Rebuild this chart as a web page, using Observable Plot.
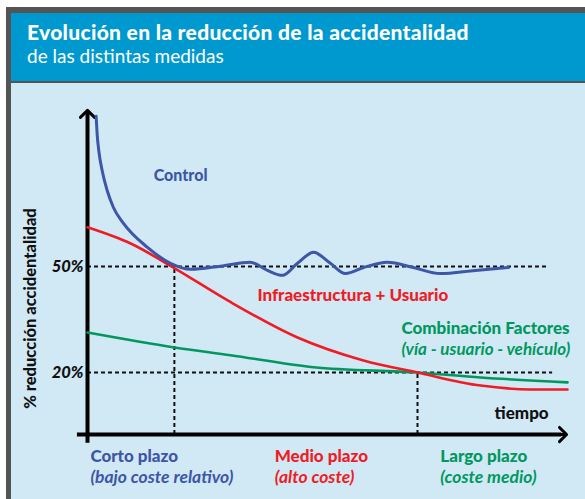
<!DOCTYPE html>
<html>
<head>
<meta charset="utf-8">
<script src="https://cdn.jsdelivr.net/npm/d3@7"></script>
<script src="https://cdn.jsdelivr.net/npm/@observablehq/plot@0.6"></script>
<style>
  html, body { margin: 0; padding: 0; background: #fff; width: 585px; height: 499px; overflow: hidden; }
  #frame { position: absolute; left: 6px; top: 7px; width: 579px; height: 492px; background: #545454; }
  #header { position: absolute; left: 5px; top: 6px; right: 0; height: 68px; background: #0099cf; color: #fff; font-family: Lato, sans-serif; }
  #title { position: absolute; left: 16px; top: 6px; font-size: 21px; font-weight: 900; letter-spacing: 0.3px; white-space: nowrap; }
  #subtitle { position: absolute; left: 16px; top: 31px; font-size: 19px; font-weight: 400; white-space: nowrap; }
  #chart { position: absolute; left: 5px; top: 76px; width: 574px; height: 416px; background: #d1e8f5; }
  #chart svg { overflow: visible; background: transparent; }
</style>
</head>
<body>
<div id="frame">
  <div id="header">
    <div id="title">Evolución en la reducción de la accidentalidad</div>
    <div id="subtitle">de las distintas medidas</div>
  </div>
  <div id="chart"></div>
</div>
<script>
// time units (0 = origin of the axes), % reduction of accidents
const controlX = [1.8, 2.0, 2.35, 3.06, 4.1, 5.4, 7.5, 12.5, 17.3, 21.5, 27.7, 33.9, 37.5, 40.6, 43.75, 47.1, 50.6, 53.75, 57.5, 62.5, 67.9, 73.5, 80.8, 87.7];
const controlY = [92.5, 87.6, 82.8, 77.1, 71.5, 66.7, 62.2, 55.4, 50.9, 49.2, 50.1, 51.2, 48.9, 47.5, 50.9, 54.0, 50.9, 48.0, 49.7, 51.2, 49.7, 48.0, 48.9, 49.7];

const infraX = [0, 9.0, 17.9, 29.2, 43.75, 57.5, 68.75, 81.9, 92.3, 100];
const infraY = [61.1, 56.5, 49.7, 40.4, 29.9, 23.4, 20.0, 16.3, 15.2, 15.2];

const combX = [0, 18.1, 29.8, 47.1, 68.75, 81.9, 100];
const combY = [31.3, 27.1, 24.9, 21.5, 20.0, 18.6, 17.2];

const tickValues = [50, 20];
const tickLabels = ["50%", "20%"];
const periodBounds = [18.1, 68.75];   // end of short term, end of medium term
const periodNames = ["Corto plazo", "Medio plazo", "Largo plazo"];
const periodCosts = ["(bajo coste relativo)", "(alto coste)", "(coste medio)"];
const seriesNames = ["Control", "Infraestructura + Usuario", "Combinación Factores"];
const combNote = "(vía - usuario - vehículo)";
const yTitle = "% reducción accidentalidad";
const xTitle = "tiempo";

const BLUE = "#3d56a6", RED = "#ee1d25", GREEN = "#00985e";
const FONT = "Lato, sans-serif";

const toRows = (xs, ys) => xs.map((x, i) => ({x, y: ys[i]}));
const control = toRows(controlX, controlY);
const infra = toRows(infraX, infraY);
const comb = toRows(combX, combY);
const periodColors = [BLUE, RED, GREEN];
const periodStarts = [0.6, 39, 73.5];
const periods = periodNames.map((n, i) => ({name: n, cost: periodCosts[i], x: periodStarts[i], color: periodColors[i]}));

const dash = {stroke: "#111", strokeWidth: 2, strokeDasharray: "4,3"};

const chart = Plot.plot({
  width: 574,
  height: 416,
  marginLeft: 76,
  marginRight: 18,
  marginTop: 6.33,
  marginBottom: 56.33,
  x: {domain: [0, 100], axis: null},
  y: {domain: [0, 100], axis: null},
  style: {background: "transparent", fontFamily: FONT},
  marks: [
    // guide lines
    Plot.ruleY([tickValues[0]], {x1: 0, x2: 96.25, ...dash}),
    Plot.ruleY([tickValues[1]], {x1: 0, x2: 96.9, ...dash}),
    Plot.ruleX([periodBounds[0]], {y1: 2.45, y2: tickValues[0], ...dash}),
    Plot.ruleX([periodBounds[1]], {y1: 2.45, y2: tickValues[1], ...dash}),
    // axes
    Plot.ruleX([0], {y1: 0, y2: 93, stroke: "#000", strokeWidth: 4}),
    Plot.ruleY([2.45], {x1: -2.1, x2: 98.8, stroke: "#000", strokeWidth: 4}),
    Plot.arrow([{x1: 0, y1: 85, x2: 0, y2: 94.2}], {x1: "x1", y1: "y1", x2: "x2", y2: "y2", stroke: "#000", strokeWidth: 3, headLength: 5, headAngle: 90}),
    Plot.arrow([{x1: 90, y1: 2.45, x2: 99.8, y2: 2.45}], {x1: "x1", y1: "y1", x2: "x2", y2: "y2", stroke: "#000", strokeWidth: 3, headLength: 5, headAngle: 90}),
    // curves
    Plot.line(comb, {x: "x", y: "y", stroke: GREEN, strokeWidth: 2.6, curve: "monotone-x"}),
    Plot.line(infra, {x: "x", y: "y", stroke: RED, strokeWidth: 2.6, curve: "monotone-x"}),
    Plot.line(control, {x: "x", y: "y", stroke: BLUE, strokeWidth: 3, curve: "monotone-x"}),
    // tick labels
    Plot.text(tickValues, {x: 0, y: d => d, text: (d, i) => tickLabels[i], textAnchor: "end", dx: -4, fontSize: 16.5, fontWeight: 900, fontStyle: "italic", fill: "#111"}),
    // axis titles
    Plot.text([yTitle], {x: -11.9, y: 38.1, rotate: -90, fontSize: 16.5, fontWeight: 900, fill: "#111"}),
    Plot.text([xTitle], {x: 84.8, y: 8.4, textAnchor: "start", fontSize: 17, fontWeight: 900, fill: "#111"}),
    // series labels
    Plot.text([seriesNames[0]], {x: 19.4, y: 75.7, fontSize: 16, fontWeight: 900, fill: BLUE}),
    Plot.text([seriesNames[1]], {x: 35.4, y: 41.8, textAnchor: "start", fontSize: 17, fontWeight: 900, fill: RED}),
    Plot.text([seriesNames[2]], {x: 65.4, y: 32.4, textAnchor: "start", fontSize: 17, fontWeight: 900, fill: GREEN}),
    Plot.text([combNote], {x: 65.4, y: 26.5, textAnchor: "start", fontSize: 17, fontWeight: 700, fontStyle: "italic", fill: GREEN}),
    // period labels
    Plot.text(periods, {x: "x", y: -3.8, text: "name", fill: "color", textAnchor: "start", fontSize: 17, fontWeight: 900}),
    Plot.text(periods, {x: "x", y: -9.7, text: "cost", fill: "color", textAnchor: "start", fontSize: 17.5, fontWeight: 700, fontStyle: "italic"})
  ]
});
document.getElementById("chart").appendChild(chart);
</script>
</body>
</html>
